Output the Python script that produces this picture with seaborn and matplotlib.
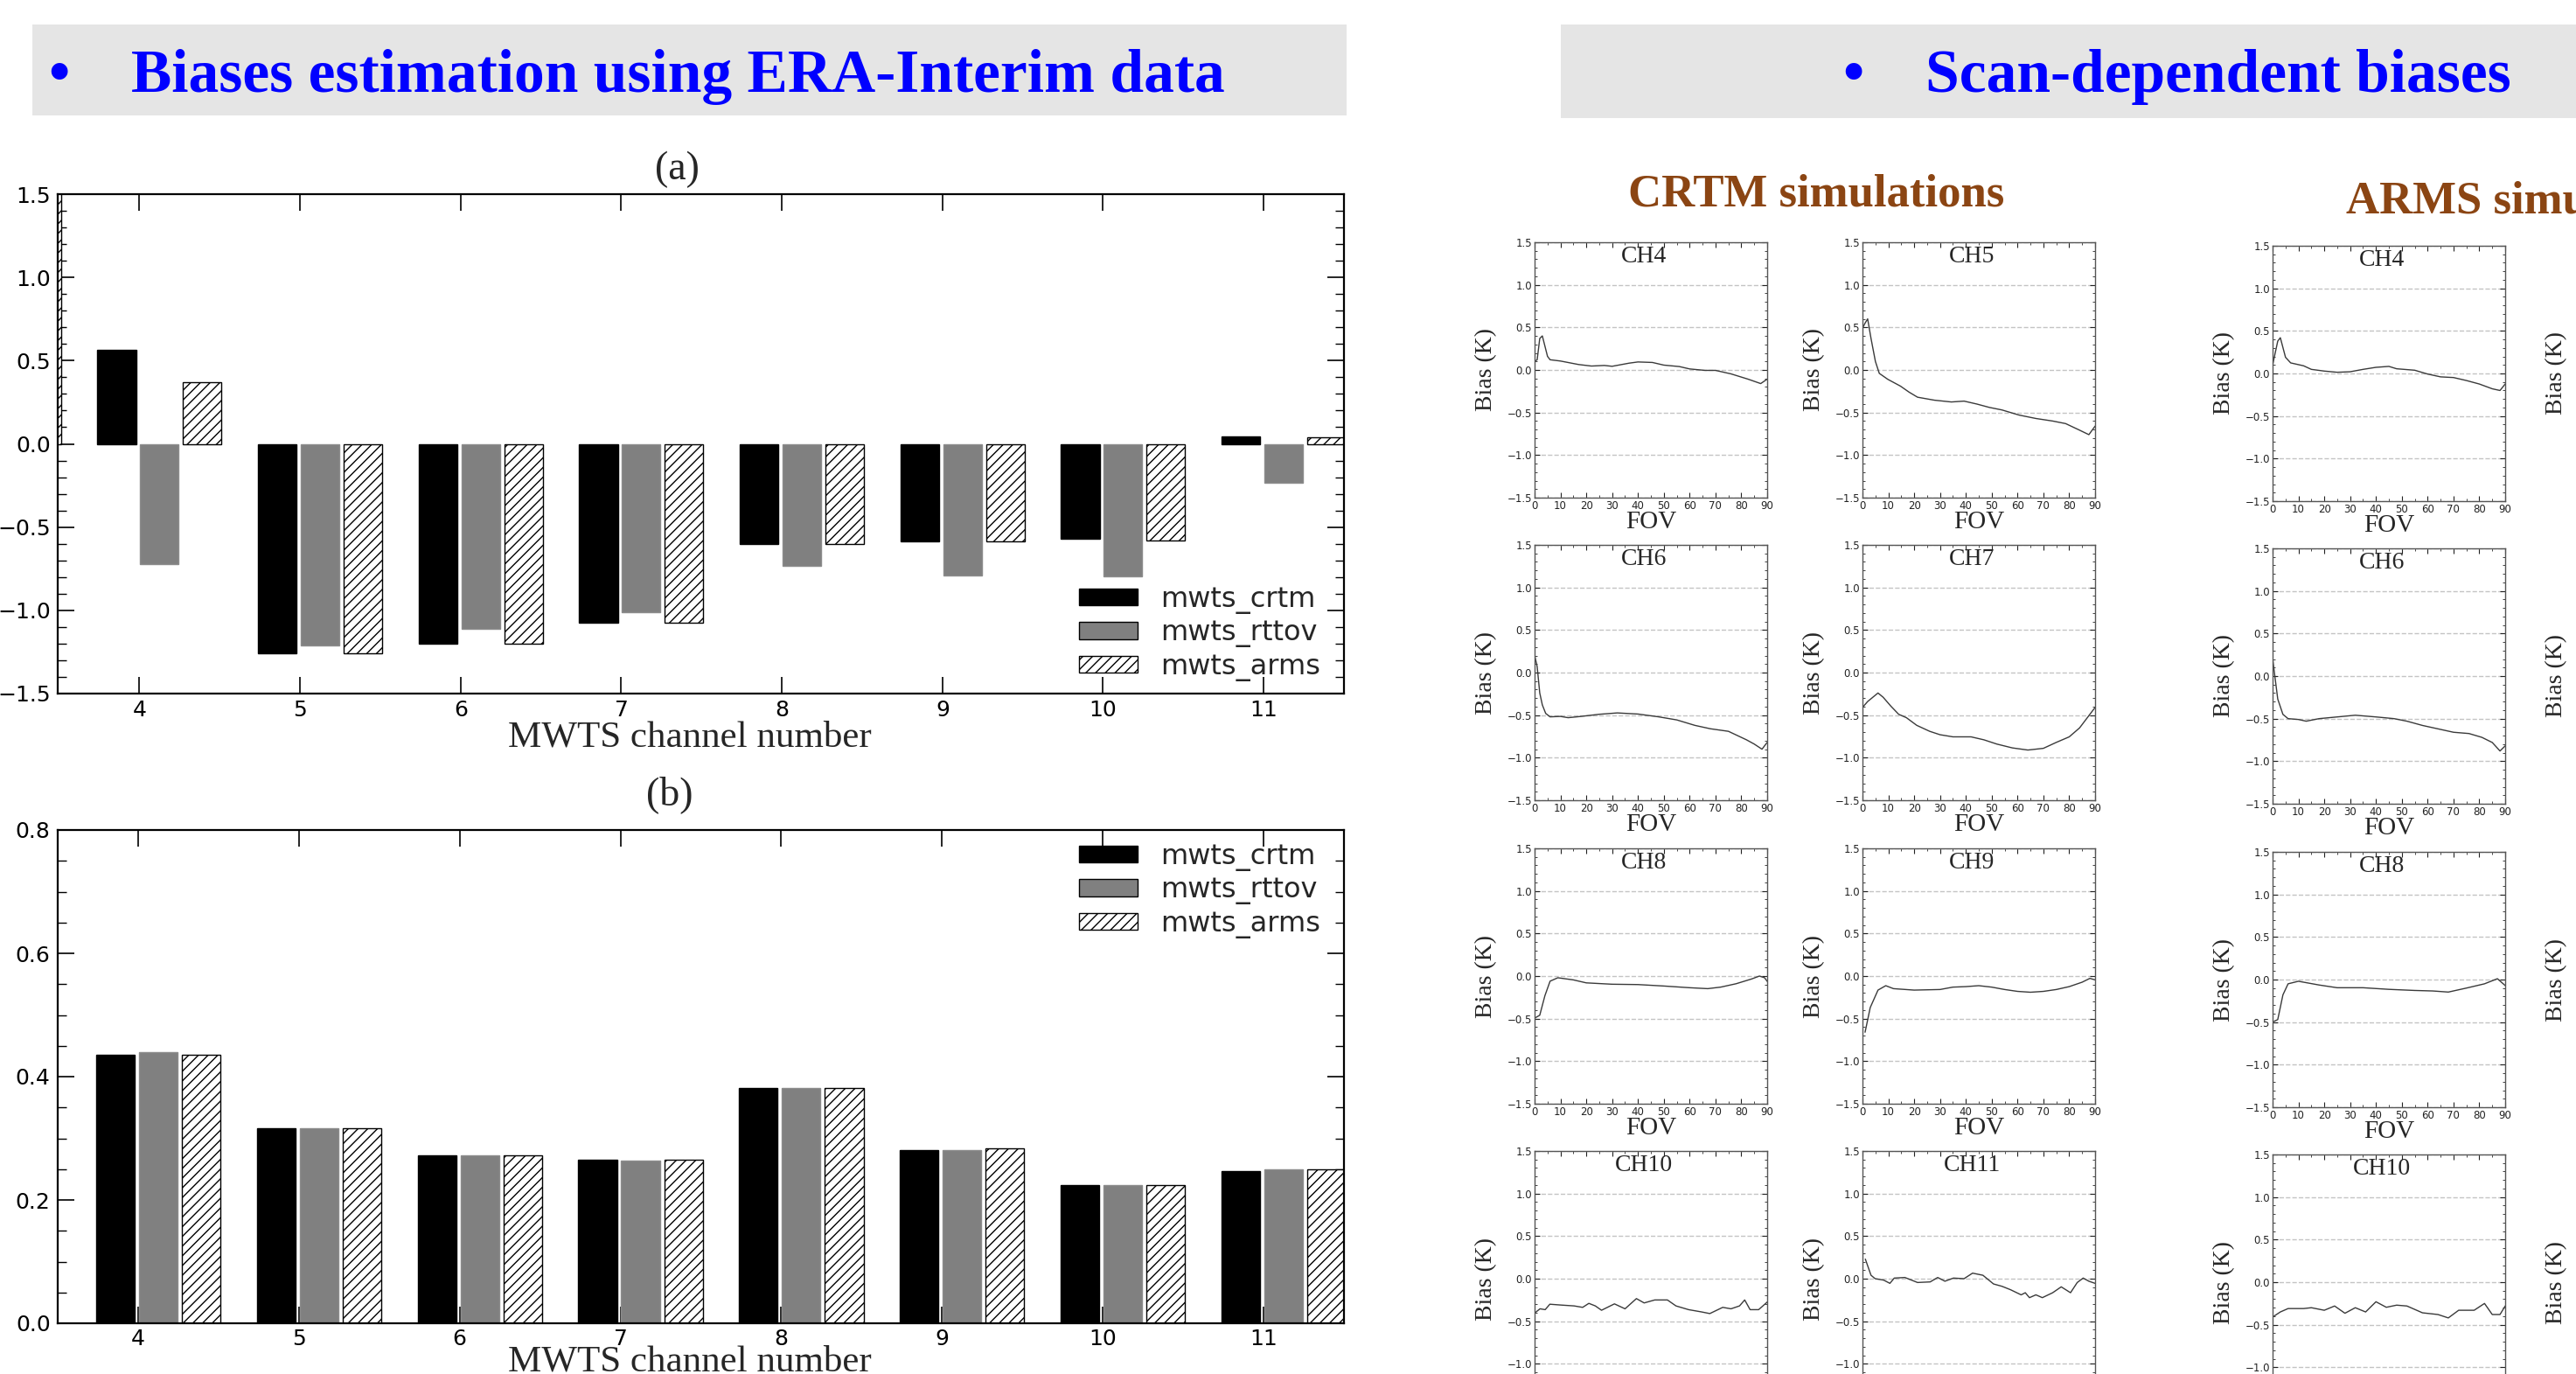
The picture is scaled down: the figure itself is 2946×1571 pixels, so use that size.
import matplotlib
matplotlib.use('Agg')
import matplotlib.pyplot as plt
import seaborn as sns
import pandas as pd
import numpy as np
from matplotlib.patches import Rectangle, Patch
from matplotlib.ticker import MultipleLocator

W, H = 2946, 1571

# ---- bar charts (a) mean bias, (b) std ----
channels = [4, 5, 6, 7, 8, 9, 10, 11]
models = ['mwts_crtm', 'mwts_rttov', 'mwts_arms']

bias_crtm = [0.563, -1.256, -1.198, -1.077, -0.604, -0.585, -0.572, 0.043]
bias_rttov = [-0.723, -1.213, -1.112, -1.011, -0.735, -0.791, -0.798, -0.234]
bias_arms = [0.368, -1.26, -1.198, -1.077, -0.604, -0.585, -0.578, 0.041]
ch3_arms_bias = 1.6   # only a sliver of this bar shows at the left edge of (a)

std_crtm = [0.436, 0.317, 0.272, 0.265, 0.382, 0.281, 0.224, 0.247]
std_rttov = [0.440, 0.317, 0.272, 0.264, 0.381, 0.281, 0.224, 0.249]
std_arms = [0.436, 0.317, 0.272, 0.265, 0.382, 0.283, 0.224, 0.250]

# ---- scan dependent biases (FOV, bias) ----
CRTM_CH4_FOV = [0, 1, 2, 3, 4, 5, 6, 10, 17, 22, 27, 30, 36.6, 40, 45.6, 50, 56, 60, 66, 70, 76, 82.6, 87.5, 90]
CRTM_CH4_BIAS = [0.10, 0.12, 0.37, 0.40, 0.28, 0.16, 0.12, 0.105, 0.064, 0.046, 0.053, 0.043, 0.08, 0.094,
                 0.088, 0.057, 0.04, 0.012, -0.005, -0.005, -0.046, -0.108, -0.16, -0.108]
CRTM_CH5_FOV = [0, 1, 2, 3.3, 5, 6.5, 9.8, 14.7, 18, 21.3, 27.8, 34.4, 39.3, 44.2, 49.1, 54, 60.6, 67.1,
                73.6, 78.6, 83.5, 87.6, 90]
CRTM_CH5_BIAS = [0.49, 0.55, 0.60, 0.37, 0.10, -0.04, -0.11, -0.19, -0.26, -0.32, -0.355, -0.376, -0.366,
                 -0.40, -0.44, -0.47, -0.53, -0.57, -0.60, -0.63, -0.70, -0.76, -0.66]
CRTM_CH6_FOV = [0, 1, 2, 3, 4.3, 6, 10, 13, 18, 25, 32, 40, 48, 55, 62, 68, 75, 82, 85, 88, 90]
CRTM_CH6_BIAS = [0.206, 0.07, -0.24, -0.38, -0.48, -0.52, -0.515, -0.53, -0.515, -0.49, -0.474, -0.487,
                 -0.52, -0.556, -0.62, -0.66, -0.69, -0.79, -0.84, -0.90, -0.82]
CRTM_CH7_FOV = [0, 2, 4, 6, 8, 11, 14, 17, 21, 26, 30, 35, 42, 47, 52, 58, 64, 70, 75, 80, 84, 88, 90]
CRTM_CH7_BIAS = [-0.41, -0.34, -0.29, -0.24, -0.29, -0.395, -0.49, -0.53, -0.62, -0.69, -0.73, -0.755,
                 -0.755, -0.79, -0.84, -0.885, -0.91, -0.89, -0.82, -0.755, -0.65, -0.49, -0.41]
CRTM_CH8_FOV = [0, 2, 4, 6, 9, 15, 20, 30, 40, 50, 60, 67, 72, 78, 84, 87, 89, 90]
CRTM_CH8_BIAS = [-0.495, -0.46, -0.23, -0.06, -0.02, -0.045, -0.08, -0.096, -0.10, -0.117, -0.137, -0.148,
                 -0.13, -0.09, -0.034, 0.0, -0.02, -0.062]
CRTM_CH9_FOV = [1, 3, 6, 9, 12, 20, 30, 35, 40, 45, 50, 55, 60, 65, 70, 75, 80, 85, 88, 90]
CRTM_CH9_BIAS = [-0.66, -0.37, -0.165, -0.113, -0.148, -0.165, -0.158, -0.13, -0.124, -0.113, -0.13, -0.158,
                 -0.18, -0.19, -0.18, -0.158, -0.124, -0.072, -0.027, -0.045]
CRTM_CH10_FOV = [0, 2.1, 4.1, 5.9, 10.3, 15.3, 18.6, 21.0, 23.5, 25.9, 30.9, 35.0, 39.4, 42.4, 46.5, 51.4,
                 54.7, 59.6, 64.5, 67.8, 72.8, 76.0, 79.3, 81.3, 83.4, 86.7, 90]
CRTM_CH10_BIAS = [-0.405, -0.354, -0.364, -0.30, -0.31, -0.32, -0.337, -0.29, -0.32, -0.371, -0.296, -0.354,
                  -0.234, -0.285, -0.25, -0.25, -0.32, -0.364, -0.39, -0.41, -0.337, -0.354, -0.32, -0.25,
                  -0.364, -0.364, -0.275]
CRTM_CH11_FOV = [1.1, 3.3, 4.9, 8.2, 10.6, 12.3, 16.4, 21.3, 26.2, 29.1, 31.9, 35.2, 39.3, 42.6, 46.6, 50.7,
                 54.0, 57.3, 61.4, 63.0, 64.6, 67.1, 69.6, 73.6, 76.9, 80.5, 83.1, 85.4, 87.6, 90]
CRTM_CH11_BIAS = [0.23, 0.04, 0.0, -0.017, -0.055, 0.007, 0.014, -0.045, -0.038, 0.014, -0.03, 0.007, 0.0,
                  0.065, 0.04, -0.062, -0.09, -0.13, -0.19, -0.165, -0.223, -0.19, -0.223, -0.165, -0.096,
                  -0.165, -0.045, 0.007, -0.03, -0.055]

ARMS_CH4_FOV = [0, 2, 3, 5, 7, 12, 15, 20, 25, 30, 35, 40, 45, 48, 55, 60, 65, 70, 75, 80, 85, 88, 90]
ARMS_CH4_BIAS = [0.097, 0.38, 0.42, 0.19, 0.124, 0.09, 0.048, 0.028, 0.014, 0.02, 0.048, 0.072, 0.083, 0.055,
                 0.038, -0.007, -0.04, -0.048, -0.083, -0.124, -0.18, -0.20, -0.124]
ARMS_CH6_FOV = [0, 2, 4, 6, 10, 13, 18, 25, 32, 40, 47, 52, 58, 64, 70, 76, 81, 85, 88, 90]
ARMS_CH6_BIAS = [0.21, -0.27, -0.45, -0.50, -0.51, -0.53, -0.50, -0.48, -0.46, -0.48, -0.50, -0.53, -0.58,
                 -0.62, -0.66, -0.675, -0.72, -0.78, -0.88, -0.82]
ARMS_CH8_FOV = [0, 2, 4, 6, 10, 18, 25, 35, 45, 55, 62, 68, 75, 82, 87, 90]
ARMS_CH8_BIAS = [-0.50, -0.47, -0.18, -0.05, -0.02, -0.064, -0.096, -0.096, -0.115, -0.128, -0.134, -0.147,
                 -0.10, -0.05, 0.01, -0.07]
ARMS_CH10_FOV = [0, 3, 6, 12, 15, 20, 24, 28, 32, 36, 40, 44, 48, 52, 58, 64, 68, 72, 78, 82, 85, 88, 90]
ARMS_CH10_BIAS = [-0.41, -0.35, -0.31, -0.31, -0.30, -0.33, -0.28, -0.365, -0.30, -0.35, -0.23, -0.295, -0.27,
                  -0.28, -0.36, -0.38, -0.42, -0.33, -0.33, -0.25, -0.38, -0.38, -0.28]

SERIF = 'Liberation Serif'
BLUE = '#0000ff'
BROWN = '#8b4513'

sns.set_style('ticks')
plt.rcParams['font.family'] = ['DejaVu Sans']
plt.rcParams['hatch.linewidth'] = 1.0


def fx(x):
    return x / W


def fy(y):
    return 1 - y / H


def px_axes(fig, left, top, w, h):
    return fig.add_axes([left / W, 1 - (top + h) / H, w / W, h / H])


def bar_panel(ax, df, order, tick_pos, xlim, ylim, major, minor, pad):
    sns.barplot(data=df, x='channel', y='value', hue='model', order=order, hue_order=models,
                palette=['#000000', '#808080', '#ffffff'], saturation=1, gap=0.1, errorbar=None,
                legend=False, ax=ax, edgecolor='black', linewidth=1.0)
    for bar in ax.containers[1]:
        bar.set_edgecolor('#8c8c8c')
    for bar in ax.containers[2]:
        bar.set_hatch('///')
        bar.set_edgecolor('black')
    ax.set_xticks(tick_pos, [str(c) for c in channels])
    ax.set_xlim(*xlim)
    ax.set_ylim(*ylim)
    ax.yaxis.set_major_locator(MultipleLocator(major))
    ax.yaxis.set_minor_locator(MultipleLocator(minor))
    ax.set_xlabel('')
    ax.set_ylabel('')
    ax.tick_params(axis='both', which='both', direction='in', top=True, right=True,
                   labelsize=18, colors='black')
    ax.tick_params(which='major', length=14, width=1.2)
    ax.tick_params(which='minor', length=7, width=1.0)
    ax.tick_params(axis='x', pad=pad)
    ax.tick_params(axis='y', pad=6)
    for s in ax.spines.values():
        s.set_visible(True)
        s.set_linewidth(1.6)
        s.set_color('black')


def bar_legend(ax, fig, top):
    handles = [Patch(facecolor='black', edgecolor='black'),
               Patch(facecolor='#808080', edgecolor='black'),
               Patch(facecolor='white', edgecolor='black', hatch='///')]
    ax.legend(handles, models, loc='upper left', bbox_to_anchor=(fx(1234), fy(top)),
              bbox_transform=fig.transFigure, frameon=False, fontsize=23, handlelength=2.1,
              handleheight=0.55, handletextpad=0.8, labelspacing=0.2, borderpad=0, borderaxespad=0)


def scan_panel(ax, fov, bias, title):
    if fov is not None:
        sns.lineplot(x=fov, y=bias, ax=ax, color='#3a3a3a', linewidth=1.0)
    ax.set_xlim(0, 90)
    ax.set_ylim(-1.5, 1.5)
    ax.set_xticks(range(0, 91, 10))
    ax.set_yticks([-1.5, -1.0, -0.5, 0.0, 0.5, 1.0, 1.5])
    ax.xaxis.set_minor_locator(MultipleLocator(5))
    ax.yaxis.set_minor_locator(MultipleLocator(0.1))
    ax.yaxis.grid(True, linestyle='--', color='#c4c4c4', linewidth=1.0)
    ax.set_axisbelow(True)
    ax.tick_params(axis='both', which='both', direction='in', top=True, right=True,
                   labelsize=8.5, pad=2, colors='#222222')
    ax.tick_params(which='major', length=4, width=0.8)
    ax.tick_params(which='minor', length=2, width=0.6)
    for s in ax.spines.values():
        s.set_visible(True)
        s.set_linewidth(1.0)
        s.set_color('#555555')
    ax.text(0.47, 0.985, title, transform=ax.transAxes, ha='center', va='top',
            fontsize=20, family=SERIF)
    ax.set_ylabel('Bias (K)', family=SERIF, fontsize=20)
    ax.yaxis.set_label_coords(-0.16, 0.5)
    ax.set_xlabel('FOV', family=SERIF, fontsize=21)
    ax.xaxis.set_label_coords(0.5, -0.05)


fig = plt.figure(figsize=(W / 100, H / 100), dpi=100)

# header boxes
fig.patches.append(Rectangle((fx(37), fy(132)), (1540 - 37) / W, 104 / H, transform=fig.transFigure,
                             facecolor='#e5e5e5', edgecolor='none', zorder=0))
fig.patches.append(Rectangle((fx(1785), fy(135)), (W - 1785) / W, 107 / H, transform=fig.transFigure,
                             facecolor='#e5e5e5', edgecolor='none', zorder=0))
fig.text(fx(67), fy(105), '\u2022', ha='center', va='baseline', fontsize=50, fontweight='bold',
         family=SERIF, color=BLUE)
fig.text(fx(150), fy(105), 'Biases estimation using ERA-Interim data', ha='left', va='baseline',
         fontsize=50, fontweight='bold', family=SERIF, color=BLUE)
fig.text(fx(2119), fy(105), '\u2022', ha='center', va='baseline', fontsize=50, fontweight='bold',
         family=SERIF, color=BLUE)
fig.text(fx(2202), fy(105), 'Scan-dependent biases', ha='left', va='baseline',
         fontsize=50, fontweight='bold', family=SERIF, color=BLUE)
fig.text(fx(1862), fy(235), 'CRTM simulations', ha='left', va='baseline',
         fontsize=38, fontweight='bold', family=SERIF, color=BROWN)
fig.text(fx(2683), fy(243), 'ARMS simulations', ha='left', va='baseline',
         fontsize=38, fontweight='bold', family=SERIF, color=BROWN)

# (a) mean bias
rows = []
for ch, a, b, c in zip(channels, bias_crtm, bias_rttov, bias_arms):
    rows += [(str(ch), models[0], a), (str(ch), models[1], b), (str(ch), models[2], c)]
rows += [('3', models[0], np.nan), ('3', models[1], np.nan), ('3', models[2], ch3_arms_bias)]
df_a = pd.DataFrame(rows, columns=['channel', 'model', 'value'])
order_a = ['3'] + [str(c) for c in channels]

ax_a = px_axes(fig, 66, 222, 1471, 571)
bar_panel(ax_a, df_a, order_a, [i - 0.125 for i in range(1, 9)], (0.366, 8.375), (-1.5, 1.5),
          0.5, 0.1, 5)
bar_legend(ax_a, fig, 670)
fig.text(fx(774), fy(194), '(a)', ha='center', va='center', fontsize=33, family=SERIF)
fig.text(fx(789), fy(853), 'MWTS channel number', ha='center', va='baseline', fontsize=31, family=SERIF)

# (b) standard deviation
rows = []
for ch, a, b, c in zip(channels, std_crtm, std_rttov, std_arms):
    rows += [(str(ch), models[0], a), (str(ch), models[1], b), (str(ch), models[2], c)]
df_b = pd.DataFrame(rows, columns=['channel', 'model', 'value'])

ax_b = px_axes(fig, 66, 949, 1471, 564)
bar_panel(ax_b, df_b, [str(c) for c in channels], [i - 0.125 for i in range(8)], (-0.625, 7.375),
          (0.0, 0.8), 0.2, 0.05, 4)
bar_legend(ax_b, fig, 964)
fig.text(fx(766), fy(909), '(b)', ha='center', va='center', fontsize=33, family=SERIF)
fig.text(fx(789), fy(1568), 'MWTS channel number', ha='center', va='baseline', fontsize=31, family=SERIF)

# scan dependent panels
crtm = {4: (CRTM_CH4_FOV, CRTM_CH4_BIAS), 5: (CRTM_CH5_FOV, CRTM_CH5_BIAS),
        6: (CRTM_CH6_FOV, CRTM_CH6_BIAS), 7: (CRTM_CH7_FOV, CRTM_CH7_BIAS),
        8: (CRTM_CH8_FOV, CRTM_CH8_BIAS), 9: (CRTM_CH9_FOV, CRTM_CH9_BIAS),
        10: (CRTM_CH10_FOV, CRTM_CH10_BIAS), 11: (CRTM_CH11_FOV, CRTM_CH11_BIAS)}
arms = {4: (ARMS_CH4_FOV, ARMS_CH4_BIAS), 6: (ARMS_CH6_FOV, ARMS_CH6_BIAS),
        8: (ARMS_CH8_FOV, ARMS_CH8_BIAS), 10: (ARMS_CH10_FOV, ARMS_CH10_BIAS)}

row_tops = [277, 623, 970, 1316]
for r, top in enumerate(row_tops):
    for c, left in enumerate([1755, 2130]):
        ch = 4 + 2 * r + c
        ax = px_axes(fig, left, top, 266, 292)
        scan_panel(ax, *crtm[ch], 'CH%d' % ch)
    for c, left in enumerate([2599, 2979]):
        ch = 4 + 2 * r + c
        ax = px_axes(fig, left, top + 4, 266, 292)
        fov, bias = arms.get(ch, (None, None))
        scan_panel(ax, fov, bias, 'CH%d' % ch)

fig.savefig('out.png', dpi=100)
